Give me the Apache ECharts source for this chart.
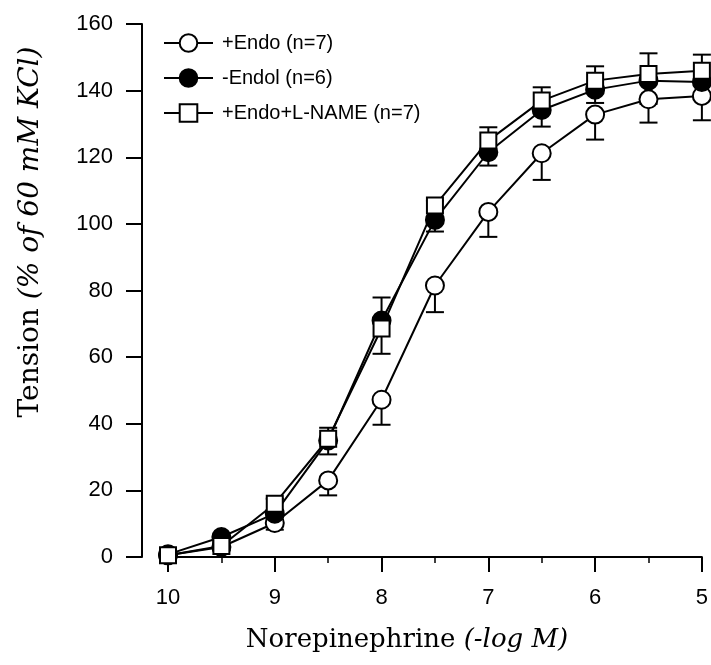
<!DOCTYPE html>
<html>
<head>
<meta charset="utf-8">
<script src="https://cdn.jsdelivr.net/npm/echarts@6/dist/echarts.min.js"></script>
<style>
  html, body { margin: 0; padding: 0; background: #fff; }
  #chart { width: 711px; height: 665px; }
</style>
</head>
<body>
<div id="chart"></div>
<script>
// 去甲肾上腺素浓度 (-log M)
const doses = [10, 9.5, 9, 8.5, 8, 7.5, 7, 6.5, 6, 5.5, 5];

// +Endo (n=7)
const endoMean = [0.5, 3, 10.2, 23, 47.2, 81.5, 103.6, 121.2, 132.8, 137.4, 138.4];
const endoErr = [0.5, 1, 2, 4.5, 7.5, 8, 7.5, 8, 7.5, 7, 7.3];
// -Endol (n=6)
const noEndoMean = [0.8, 6, 13, 35, 71, 101.2, 121.5, 134.2, 140.3, 143, 142.6];
const noEndoErr = [0.5, 1, 2, 4.2, 10, 3.5, 4, 5, 4, 7, 5];
// +Endo+L-NAME (n=7)
const lnameMean = [0.5, 3.3, 16, 35.5, 68.6, 105.5, 125, 137, 143, 145, 146];
const lnameErr = [0.5, 1, 1.5, 3.3, 9.3, 1.5, 4, 4, 4.3, 6.2, 4.8];

const yTicks = { min: 0, max: 160, interval: 20 };

function pairs(ys) {
  return doses.map((x, i) => [x, ys[i]]);
}

// 误差线: dir = -1 向下, 1 向上
function errorSeries(mean, err, dir) {
  return {
    type: 'custom',
    data: doses.map((x, i) => [x, mean[i], mean[i] + dir * err[i]]),
    renderItem: function (params, api) {
      const p0 = api.coord([api.value(0), api.value(1)]);
      const p1 = api.coord([api.value(0), api.value(2)]);
      const cap = 9;
      const st = { stroke: '#000', lineWidth: 2 };
      return {
        type: 'group',
        children: [
          { type: 'line', shape: { x1: p0[0], y1: p0[1], x2: p1[0], y2: p1[1] }, style: st },
          { type: 'line', shape: { x1: p1[0] - cap, y1: p1[1], x2: p1[0] + cap, y2: p1[1] }, style: st }
        ]
      };
    },
    silent: true
  };
}

function lineSeries(name, mean, symbol, fill, size) {
  return {
    name: name,
    type: 'line',
    data: pairs(mean),
    symbol: symbol,
    symbolSize: size,
    showAllSymbol: true,
    clip: false,
    lineStyle: { color: '#000', width: 2 },
    itemStyle: { color: fill, borderColor: '#000', borderWidth: 2 }
  };
}

const chart = echarts.init(document.getElementById('chart'));

chart.setOption({
  animation: false,
  backgroundColor: '#fff',
  grid: { left: 168, right: 7, top: 24, bottom: 108 },
  legend: {
    orient: 'vertical',
    left: 163,
    top: 33,
    padding: 0,
    itemWidth: 49,
    itemHeight: 22,
    itemGap: 15,
    textStyle: { fontFamily: 'Liberation Sans', fontSize: 20, color: '#000', padding: [0, 0, 0, 4] },
    data: ['+Endo (n=7)', '-Endol (n=6)', '+Endo+L-NAME (n=7)']
  },
  xAxis: {
    type: 'value',
    inverse: true,
    min: 5,
    max: 10,
    interval: 1,
    axisLine: { lineStyle: { color: '#000', width: 2 } },
    axisTick: { length: 15, lineStyle: { color: '#000', width: 2 } },
    minorTick: { show: true, splitNumber: 2, length: 6, lineStyle: { color: '#000', width: 1.5 } },
    splitLine: { show: false },
    axisLabel: { margin: 30, color: '#000', fontFamily: 'Liberation Sans', fontSize: 22 }
  },
  yAxis: {
    type: 'value',
    min: yTicks.min,
    max: yTicks.max,
    interval: yTicks.interval,
    offset: 26,
    axisLine: { show: true, lineStyle: { color: '#000', width: 2 } },
    axisTick: { show: true, length: 16, lineStyle: { color: '#000', width: 2 } },
    splitLine: { show: false },
    axisLabel: { margin: 29, color: '#000', fontFamily: 'Liberation Sans', fontSize: 22 }
  },
  graphic: [
    {
      type: 'text',
      x: 407,
      y: 640,
      style: {
        text: '{a|Norepinephrine }{b|(-log M)}',
        align: 'center',
        verticalAlign: 'middle',
        rich: {
          a: { fontFamily: 'DejaVu Serif', fontSize: 26, fill: '#000' },
          b: { fontFamily: 'DejaVu Serif', fontStyle: 'italic', fontSize: 26, fill: '#000' }
        }
      }
    },
    {
      type: 'text',
      x: 31,
      y: 232,
      rotation: Math.PI / 2,
      style: {
        text: '{a|Tension }{b|(% of 60 mM KCl)}',
        align: 'center',
        verticalAlign: 'middle',
        rich: {
          a: { fontFamily: 'DejaVu Serif', fontSize: 28, fill: '#000' },
          b: { fontFamily: 'DejaVu Serif', fontStyle: 'italic', fontSize: 28, fill: '#000' }
        }
      }
    }
  ],
  series: [
    errorSeries(endoMean, endoErr, -1),
    lineSeries('+Endo (n=7)', endoMean, 'circle', '#fff', 18),
    errorSeries(noEndoMean, noEndoErr, -1),
    lineSeries('-Endol (n=6)', noEndoMean, 'circle', '#000', 18),
    errorSeries(lnameMean, lnameErr, 1),
    lineSeries('+Endo+L-NAME (n=7)', lnameMean, 'rect', '#fff', 16)
  ]
});
</script>
</body>
</html>
